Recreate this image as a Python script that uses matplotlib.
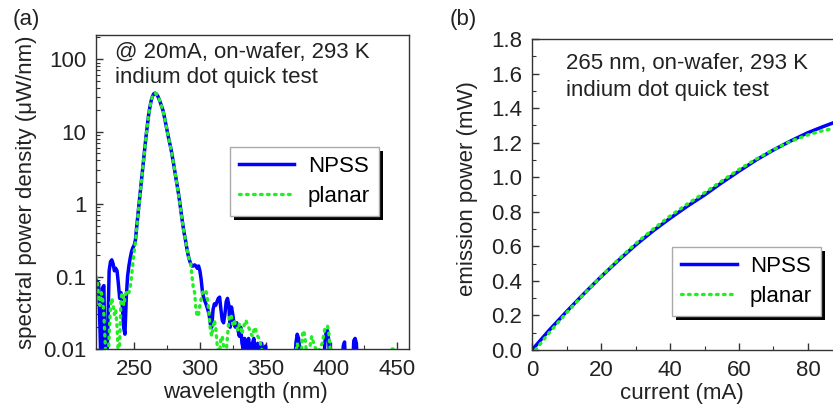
import matplotlib
matplotlib.use("Agg")
import matplotlib.pyplot as plt
import numpy as np
from matplotlib.patches import Rectangle
from matplotlib.ticker import FixedLocator, FuncFormatter, LogLocator, MultipleLocator
from matplotlib.transforms import IdentityTransform

plt.rcParams["font.family"] = ["Liberation Sans", "DejaVu Sans"]

# (a) spectra, values in uW/nm (0.005 = below the axis floor)
wl_npss = [221, 222, 223, 224, 225, 226, 227, 228, 229, 230, 231, 232, 233, 234, 235,
           236, 237, 238, 239, 240, 241, 242, 243, 244, 245, 246, 247, 248, 249, 250,
           251, 252, 253, 254, 255, 256, 257, 258, 259, 260, 261, 262, 263, 264, 265,
           266, 267, 268, 269, 270, 271, 272, 273, 274, 275, 276, 277, 278, 279, 280,
           281, 282, 283, 284, 285, 286, 287, 288, 289, 290, 291, 292, 293, 294, 295,
           296, 297, 298, 299, 300, 301, 302, 303, 304, 305, 306, 307, 308, 309, 310,
           311, 312, 313, 314, 315, 316, 317, 318, 319, 320, 321, 322, 323, 324, 325,
           326, 327, 328, 329, 330, 331, 332, 333, 334, 335, 336, 337, 338, 339, 340,
           341, 342, 343, 344, 345, 346, 347, 348, 349, 350, 351, 372, 373, 374, 375,
           376, 377, 394, 395, 396, 397, 398, 399, 408, 409, 410, 411, 416, 417, 418,
           419, 420, 460]
sp_npss = [0.09, 0.085, 0.08, 0.02, 0.004, 0.07, 0.075, 0.004, 0.004, 0.02, 0.12, 0.16, 0.17, 0.15, 0.12,
           0.13, 0.12, 0.08, 0.05, 0.06, 0.04, 0.02, 0.016, 0.05, 0.10, 0.14, 0.18, 0.22, 0.25, 0.27,
           0.32, 0.5, 0.75, 1.1, 1.7, 2.6, 3.9, 5.6, 8.5, 12, 17, 22, 27, 31, 33.5,
           34, 33, 31, 28, 25, 22, 19.5, 16, 13, 10.5, 8.5, 7, 5.8, 4.6, 3.6,
           2.8, 2.2, 1.7, 1.3, 0.95, 0.7, 0.52, 0.4, 0.32, 0.25, 0.2, 0.17, 0.15, 0.14, 0.14,
           0.145, 0.14, 0.13, 0.14, 0.12, 0.09, 0.06, 0.05, 0.045, 0.04, 0.035, 0.03, 0.022, 0.02, 0.035,
           0.042, 0.04, 0.045, 0.05, 0.052, 0.035, 0.025, 0.023, 0.03, 0.045, 0.05, 0.04, 0.02, 0.038, 0.03,
           0.022, 0.02, 0.023, 0.018, 0.015, 0.02, 0.012, 0.01, 0.014, 0.011, 0.009, 0.014, 0.01, 0.008, 0.012,
           0.014, 0.01, 0.009, 0.012, 0.008, 0.011, 0.012, 0.008, 0.01, 0.011, 0.005, 0.005, 0.012, 0.016, 0.014,
           0.01, 0.005, 0.005, 0.012, 0.017, 0.018, 0.013, 0.005, 0.005, 0.011, 0.0125, 0.005, 0.005, 0.013, 0.014,
           0.012, 0.005, 0.005]

wl_planar = [221, 222, 223, 224, 225, 226, 227, 228, 229, 230, 231, 232, 233, 234, 235,
             236, 237, 238, 239, 240, 241, 242, 243, 244, 245, 246, 247, 248, 249, 250,
             251, 252, 253, 254, 255, 256, 257, 258, 259, 260, 261, 262, 263, 264, 265,
             266, 267, 268, 269, 270, 271, 272, 273, 274, 275, 276, 277, 278, 279, 280,
             281, 282, 283, 284, 285, 286, 287, 288, 289, 290, 291, 292, 293, 294, 295,
             296, 297, 298, 299, 300, 301, 302, 303, 304, 305, 306, 307, 308, 309, 310,
             311, 312, 313, 314, 315, 316, 317, 318, 319, 320, 321, 322, 323, 324, 325,
             326, 327, 328, 329, 330, 331, 332, 333, 334, 335, 336, 337, 338, 339, 340,
             341, 342, 343, 344, 345, 346, 347, 348, 372, 373, 374, 375, 376, 377, 378,
             379, 380, 381, 383, 384, 385, 386, 387, 390, 393, 394, 395, 396, 397, 398,
             399, 400, 445, 446, 447, 448, 460]
sp_planar = [0.1, 0.09, 0.05, 0.04, 0.06, 0.05, 0.03, 0.012, 0.005, 0.005, 0.015, 0.04, 0.05, 0.04, 0.03,
             0.035, 0.02, 0.008, 0.012, 0.05, 0.06, 0.04, 0.05, 0.06, 0.065, 0.06, 0.07, 0.1, 0.15, 0.22,
             0.3, 0.48, 0.72, 1.05, 1.65, 2.5, 3.8, 5.5, 8.3, 12, 17, 22, 27, 31, 33.5,
             34, 33, 31, 28, 25, 22, 19.5, 16, 13, 10.5, 8.5, 7, 5.8, 4.6, 3.6,
             2.8, 2.2, 1.7, 1.3, 0.95, 0.7, 0.52, 0.4, 0.32, 0.25, 0.2, 0.17, 0.15, 0.1, 0.07,
             0.06, 0.035, 0.028, 0.03, 0.04, 0.05, 0.06, 0.065, 0.065, 0.06, 0.045, 0.03, 0.018, 0.015, 0.02,
             0.025, 0.02, 0.012, 0.008, 0.009, 0.014, 0.015, 0.011, 0.008, 0.009, 0.015, 0.025, 0.03, 0.028, 0.022,
             0.025, 0.022, 0.02, 0.018, 0.022, 0.02, 0.016, 0.02, 0.022, 0.025, 0.022, 0.02, 0.018, 0.016, 0.015,
             0.018, 0.02, 0.017, 0.015, 0.014, 0.012, 0.01, 0.006, 0.006, 0.009, 0.012, 0.01, 0.009, 0.007, 0.016,
             0.018, 0.014, 0.009, 0.008, 0.012, 0.015, 0.013, 0.011, 0.009, 0.012, 0.015, 0.019, 0.02, 0.021, 0.017,
             0.01, 0.007, 0.007, 0.01, 0.01, 0.007, 0.007]

# (b) L-I curves, mW vs mA
cur_npss = [0, 5, 10, 15, 20, 25, 30, 35, 40, 45, 50, 55, 60, 65, 70, 75, 80, 84, 88]
pow_npss = [0.0, 0.115, 0.222, 0.325, 0.424, 0.518, 0.607, 0.688, 0.762, 0.832, 0.897,
            0.968, 1.035, 1.1, 1.158, 1.21, 1.258, 1.29, 1.32]
cur_planar = [1, 5, 10, 15, 20, 25, 30, 35, 40, 45, 50, 55, 60, 65, 70, 75, 80, 84, 88]
pow_planar = [0.0, 0.1, 0.215, 0.322, 0.425, 0.523, 0.615, 0.698, 0.775, 0.845, 0.91,
              0.978, 1.045, 1.105, 1.16, 1.208, 1.245, 1.268, 1.285]

BLUE = "#0000ff"
GREEN = "#22ee22"
FS = 16
W, H = 833, 407


def style_axes(ax):
    for sp in ax.spines.values():
        sp.set_color("#333333")
        sp.set_linewidth(1.0)
    ax.tick_params(which="both", direction="in", top=False, right=False,
                   labelsize=FS, colors="#333333", labelcolor="#222222")
    ax.tick_params(which="major", length=5, width=1.0, pad=7)
    ax.tick_params(which="minor", length=3, width=0.8)


def add_legend(ax, anchor):
    leg = ax.legend(loc="upper left", bbox_to_anchor=anchor, fontsize=FS,
                    fancybox=False, framealpha=1, edgecolor="#aaaaaa",
                    handlelength=2.5, handletextpad=0.6, labelspacing=0.4,
                    borderpad=0.4, borderaxespad=0)
    leg.get_frame().set_linewidth(1.0)
    return leg


fig = plt.figure(figsize=(W / 100, H / 100), dpi=100)

# panel (a)
ax1 = fig.add_axes([96 / W, 1 - 349 / H, 313 / W, 314 / H])
ax1.plot(wl_npss, sp_npss, color=BLUE, lw=2.5, label="NPSS", solid_joinstyle="round")
ax1.plot(wl_planar, sp_planar, color=GREEN, lw=2.4, ls=(0, (0.5, 1.6)),
         dash_capstyle="round", label="planar")
ax1.set_yscale("log")
ax1.set_xlim(221, 459)
ax1.set_ylim(0.01, 216)
ax1.xaxis.set_major_locator(MultipleLocator(50))
ax1.xaxis.set_minor_locator(MultipleLocator(25))
ax1.yaxis.set_major_locator(FixedLocator([0.01, 0.1, 1, 10, 100]))
ax1.yaxis.set_minor_locator(LogLocator(base=10, subs=np.arange(2, 10), numticks=20))
ax1.yaxis.set_minor_formatter(FuncFormatter(lambda v, p: ""))
ax1.yaxis.set_major_formatter(FuncFormatter(lambda v, p: f"{v:g}"))
style_axes(ax1)
ax1.set_xlabel("wavelength (nm)", fontsize=FS, color="#222222")
ax1.set_ylabel("spectral power density (\u03bcW/nm)", fontsize=FS, color="#222222")
ax1.xaxis.set_label_coords(0.476, -0.105)
ax1.yaxis.set_label_coords(-0.19, 0.5)
ax1.text(0.061, 0.927, "@ 20mA, on-wafer, 293 K", transform=ax1.transAxes,
         fontsize=FS, va="baseline", color="#222222")
ax1.text(0.061, 0.847, "indium dot quick test", transform=ax1.transAxes,
         fontsize=FS, va="baseline", color="#222222")
leg1 = add_legend(ax1, (0.428, 0.643))

# panel (b)
ax2 = fig.add_axes([532 / W, 1 - 350 / H, 345 / W, 311 / H])
ax2.plot(cur_npss, pow_npss, color=BLUE, lw=2.5, label="NPSS")
ax2.plot(cur_planar, pow_planar, color=GREEN, lw=2.4, ls=(0, (0.5, 1.6)),
         dash_capstyle="round", label="planar")
ax2.set_xlim(0, 100)
ax2.set_ylim(0, 1.8)
ax2.xaxis.set_major_locator(FixedLocator([0, 20, 40, 60, 80]))
ax2.xaxis.set_minor_locator(MultipleLocator(10))
ax2.yaxis.set_major_locator(MultipleLocator(0.2))
ax2.yaxis.set_minor_locator(MultipleLocator(0.1))
ax2.yaxis.set_major_formatter(FuncFormatter(lambda v, p: f"{v:.1f}"))
style_axes(ax2)
ax2.set_xlabel("current (mA)", fontsize=FS, color="#222222")
ax2.set_ylabel("emission power (mW)", fontsize=FS, color="#222222")
ax2.xaxis.set_label_coords(0.434, -0.106)
ax2.yaxis.set_label_coords(-0.157, 0.52)
ax2.text(0.0986, 0.9035, "265 nm, on-wafer, 293 K", transform=ax2.transAxes,
         fontsize=FS, va="baseline", color="#222222")
ax2.text(0.0986, 0.817, "indium dot quick test", transform=ax2.transAxes,
         fontsize=FS, va="baseline", color="#222222")
leg2 = add_legend(ax2, (0.406, 0.331))

fig.text(13 / W, 1 - 20 / H, "(a)", fontsize=FS, va="center", color="#222222")
fig.text(450 / W, 1 - 20 / H, "(b)", fontsize=FS, va="center", color="#222222")

# solid black drop shadows behind the legend boxes
fig.canvas.draw()
for ax, leg in ((ax1, leg1), (ax2, leg2)):
    bb = leg.get_frame().get_window_extent()
    ax.add_patch(Rectangle((bb.x0 + 4, bb.y0 - 4), bb.width, bb.height,
                           transform=IdentityTransform(), facecolor="black",
                           edgecolor="none", clip_on=False, zorder=4.9))

fig.savefig("out.png", dpi=100)
